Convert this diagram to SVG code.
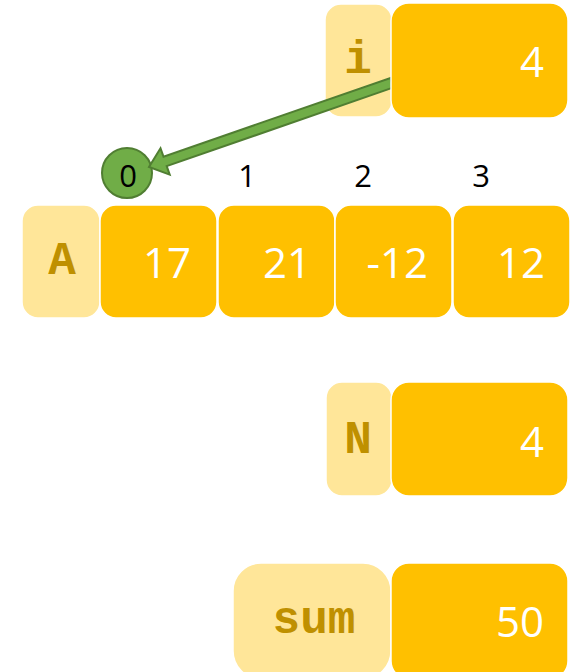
<svg xmlns="http://www.w3.org/2000/svg" width="579" height="672" viewBox="0 0 579 672">
<style>
.lbl{fill:#FFE699;stroke:#FFFFFF;stroke-width:1.5}
.val{fill:#FFC000;stroke:#FFFFFF;stroke-width:1.5}
.lt{font-family:"Liberation Mono","Courier New",monospace;font-weight:bold;font-size:46px;fill:#BF9000;text-anchor:middle}
.vt{font-family:"Open Sans","Noto Sans",sans-serif;font-size:42px;fill:#FFFFFF;text-anchor:end}
.it{font-family:"Open Sans","Noto Sans",sans-serif;font-size:31px;fill:#000000;text-anchor:middle}
.arrow{fill:#70AD47;stroke:#507E32;stroke-width:2;stroke-linejoin:miter}
</style>
<rect width="579" height="672" fill="#FFFFFF"/>
<g id="node-i-label">
<rect class="lbl" x="325" y="4" width="67" height="113" rx="16"/>
<text class="lt" x="358" y="73">i</text>
</g>
<g id="node-index-0">
<circle cx="127" cy="173" r="25" fill="#70AD47" stroke="#507E32" stroke-width="2"/>
<text class="it" x="128" y="187">0</text>
</g>
<g id="connectors">
<polygon class="arrow" points="393.6,87.4 166.7,166.1 169.7,174.6 149,167 160.5,148.2 163.5,156.7 390.4,78"/>
</g>
<g id="node-i-value">
<rect class="val" x="391" y="3" width="177" height="115" rx="18"/>
<text class="vt" x="544" y="77">4</text>
</g>
<g id="node-index-labels">
<text class="it" x="247" y="187">1</text>
<text class="it" x="363" y="187">2</text>
<text class="it" x="481" y="187">3</text>
</g>
<g id="node-A-label">
<rect class="lbl" x="22" y="205" width="78" height="113" rx="16"/>
<text class="lt" x="62" y="274">A</text>
</g>
<g id="node-A-0">
<rect class="val" x="100" y="205" width="117" height="113" rx="16"/>
<text class="vt" x="191" y="278">17</text>
</g>
<g id="node-A-1">
<rect class="val" x="218" y="205" width="117" height="113" rx="16"/>
<text class="vt" x="311" y="278">21</text>
</g>
<g id="node-A-2">
<rect class="val" x="335" y="205" width="117" height="113" rx="16"/>
<text class="vt" x="428" y="278">-12</text>
</g>
<g id="node-A-3">
<rect class="val" x="453" y="205" width="117" height="113" rx="16"/>
<text class="vt" x="545" y="278">12</text>
</g>
<g id="node-N-label">
<rect class="lbl" x="326" y="382" width="66" height="114" rx="16"/>
<text class="lt" x="358" y="453">N</text>
</g>
<g id="node-N-value">
<rect class="val" x="391" y="382" width="177" height="114" rx="18"/>
<text class="vt" x="544" y="457">4</text>
</g>
<g id="node-sum-label">
<rect class="lbl" x="233" y="563" width="158" height="116" rx="28"/>
<text class="lt" x="314" y="633">sum</text>
</g>
<g id="node-sum-value">
<rect class="val" x="391" y="563" width="177" height="116" rx="18"/>
<text class="vt" x="544" y="637">50</text>
</g>
</svg>
